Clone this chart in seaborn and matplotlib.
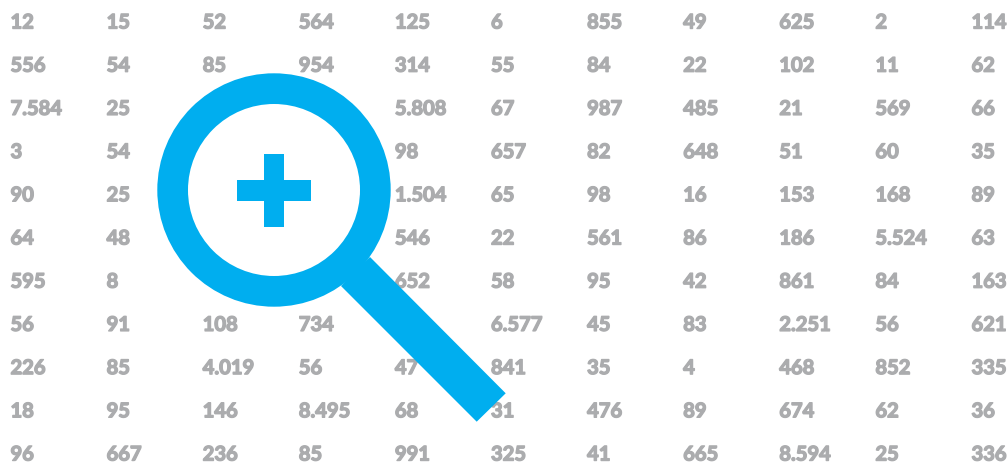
import matplotlib
matplotlib.use("Agg")
import matplotlib.pyplot as plt
import matplotlib.patheffects as pe
from matplotlib.patches import Circle, Polygon, Rectangle
import seaborn as sns

# Number grid, row by row; empty cells are hidden behind the magnifier
row0 = ["12", "15", "52", "564", "125", "6", "855", "49", "625", "2", "114"]
row1 = ["556", "54", "85", "954", "314", "55", "84", "22", "102", "11", "62"]
row2 = ["7.584", "25", "", "", "5.808", "67", "987", "485", "21", "569", "66"]
row3 = ["3", "54", "", "", "98", "657", "82", "648", "51", "60", "35"]
row4 = ["90", "25", "", "", "1.504", "65", "98", "16", "153", "168", "89"]
row5 = ["64", "48", "", "", "546", "22", "561", "86", "186", "5.524", "63"]
row6 = ["595", "8", "", "", "652", "58", "95", "42", "861", "84", "163"]
row7 = ["56", "91", "108", "734", "", "6.577", "45", "83", "2.251", "56", "621"]
row8 = ["226", "85", "4.019", "56", "47", "841", "35", "4", "468", "852", "335"]
row9 = ["18", "95", "146", "8.495", "68", "31", "476", "89", "674", "62", "36"]
row10 = ["96", "667", "236", "85", "991", "325", "41", "665", "8.594", "25", "336"]
rows = [row0, row1, row2, row3, row4, row5, row6, row7, row8, row9, row10]

GREY = "#abacae"
BLUE = "#00aeef"

sns.set_theme(style="white")
plt.rcParams["font.family"] = ["Lato", "DejaVu Sans"]

fig = plt.figure(figsize=(10.08, 4.65), dpi=100, facecolor="white")
ax = fig.add_axes([0, 0, 1, 1])
ax.set_xlim(0, 1008)
ax.set_ylim(465, 0)
ax.axis("off")

for r, row in enumerate(rows):
    for c, label in enumerate(row):
        if label:
            t = ax.text(10.5 + 96.1 * c, 28.5 + 43.2 * r, label, color=GREY, fontsize=14.5,
                        fontweight="bold", ha="left", va="baseline", zorder=1)
            t.set_path_effects([pe.withStroke(linewidth=1.0, foreground=GREY)])

# Magnifying glass
ax.add_patch(Polygon([(341, 286), (370, 257), (505.7, 393.3), (476.7, 421.7)],
                     closed=True, facecolor=BLUE, edgecolor="none", zorder=2))
ax.add_patch(Circle((274, 190), 116.7, facecolor=BLUE, edgecolor="none", zorder=3))
ax.add_patch(Circle((274, 190), 86, facecolor="white", edgecolor="none", zorder=4))
ax.add_patch(Rectangle((237.3, 180), 73.4, 20.7, facecolor=BLUE, edgecolor="none", zorder=5))
ax.add_patch(Rectangle((263.7, 153.7), 20.6, 73, facecolor=BLUE, edgecolor="none", zorder=5))

fig.savefig("out.png", dpi=100, facecolor="white")
